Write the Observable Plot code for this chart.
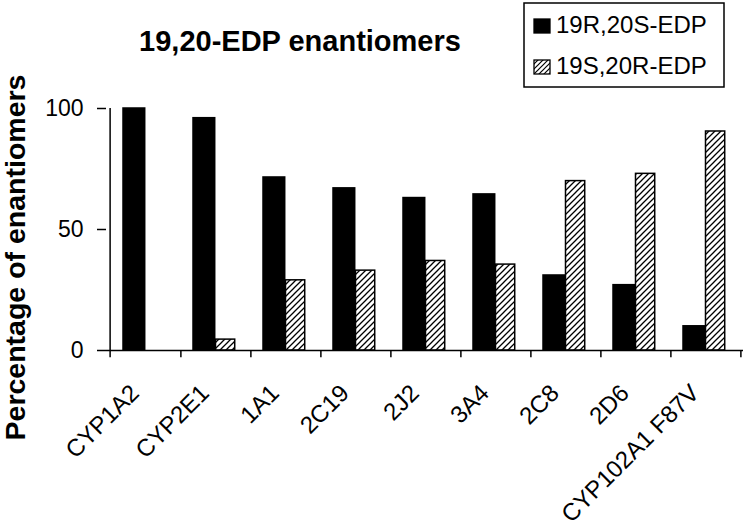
<!DOCTYPE html>
<html><head><meta charset="utf-8">
<script src="https://cdn.jsdelivr.net/npm/d3@7"></script>
<script src="https://cdn.jsdelivr.net/npm/@observablehq/plot@0.6"></script>
<style>
body{margin:0;background:#fff;}
#wrap{position:relative;width:749px;height:531px;overflow:hidden;font-family:"Liberation Sans",Arial,sans-serif;color:#000;background:#fff;}
#chart{position:absolute;left:0;top:0;}
#title{position:absolute;left:0;width:600px;top:27px;text-align:center;font-weight:bold;font-size:29px;line-height:29px;white-space:nowrap;}
#legend{position:absolute;left:522px;top:1px;}
svg g[aria-label^="y-axis"] line, svg g[aria-label^="y-axis"] path{stroke-width:1.5px;}
</style></head>
<body>
<div id="wrap">
  <div id="chart"></div>
  <div id="title">19,20-EDP enantiomers</div>
  <div id="legend"></div>
</div>
<script>
const categories = ["CYP1A2","CYP2E1","1A1","2C19","2J2","3A4","2C8","2D6","CYP102A1 F87V"];
const r20s = [100, 96, 71.5, 67, 63, 64.5, 31, 27, 10];
const s20r = [0, 4.5, 29, 33, 37, 35.5, 70, 73, 90.5];
const seriesNames = ["19R,20S-EDP", "19S,20R-EDP"];
const yTicks = [0, 50, 100];
const yTitle = "Percentage of enantiomers";

const W = 749, H = 531, mL = 106, mR = 6, mT = 108, mB = 181;
const bw = (W - mL - mR) / categories.length;
const rows1 = categories.map((c, i) => ({cat: c, v: r20s[i]}));
const rows2 = categories.map((c, i) => ({cat: c, v: s20r[i]})).filter(d => d.v > 0);
const font = "'Liberation Sans', Arial, sans-serif";

const svg = Plot.plot({
  width: W, height: H,
  marginLeft: mL, marginRight: mR, marginTop: mT, marginBottom: mB,
  style: {fontFamily: font, fontSize: "23px", color: "#000", background: "transparent"},
  x: {type: "band", domain: categories, padding: 0, axis: null},
  y: {domain: [0, 100], ticks: yTicks, tickSize: 9, tickPadding: 14, tickFormat: d => String(d), label: null},
  marks: [
    Plot.barY(rows1, {x: "cat", y: "v", fill: "#000", stroke: "#000", strokeWidth: 1.5, insetLeft: 13, insetRight: bw - 35.5}),
    Plot.barY(rows2, {x: "cat", y: "v", fill: "url(#hatch)", stroke: "#000", strokeWidth: 1.5, insetLeft: 35.5, insetRight: bw - 55.5}),
    Plot.ruleY([0], {strokeWidth: 1.5}),
    Plot.ruleX([categories[0]], {y1: -3, y2: 100, dx: -bw / 2, strokeWidth: 1.5}),
    Plot.ruleX(categories, {y1: 0, y2: -3, dx: bw / 2, strokeWidth: 1.5}),
    Plot.text(categories, {x: d => d, frameAnchor: "bottom", rotate: -45, textAnchor: "end", lineAnchor: "bottom", dx: -5, dy: 44, fontSize: 24, fontFamily: font}),
    Plot.text([yTitle], {text: d => d, frameAnchor: "left", rotate: -90, textAnchor: "middle", lineAnchor: "bottom", dx: 24 - mL, dy: 28, fontSize: 28.5, fontWeight: "bold", fontFamily: font})
  ]
});

const ns = "http://www.w3.org/2000/svg";
const defs = document.createElementNS(ns, "defs");
defs.innerHTML = '<pattern id="hatch" patternUnits="userSpaceOnUse" width="6" height="6"><rect width="6" height="6" fill="#fff"/><path d="M-1,1L1,-1M0,6L6,0M5,7L7,5" stroke="#000" stroke-width="1.3"/></pattern>';
svg.insertBefore(defs, svg.firstChild);
document.getElementById("chart").appendChild(svg);

// legend
const lg = d3.select("#legend").append("svg").attr("width", 206).attr("height", 90)
  .style("font-family", font);
lg.append("defs").html('<pattern id="hatchL" patternUnits="userSpaceOnUse" width="5" height="5"><rect width="5" height="5" fill="#fff"/><path d="M-1,1L1,-1M0,5L5,0M4,6L6,4" stroke="#000" stroke-width="1.2"/></pattern>');
lg.append("rect").attr("x", 2).attr("y", 2).attr("width", 200).attr("height", 84)
  .attr("fill", "#fff").attr("stroke", "#000").attr("stroke-width", 1.5);
const fills = ["#000", "url(#hatchL)"];
seriesNames.forEach((name, i) => {
  const by = [32, 73][i];
  lg.append("rect").attr("x", 12).attr("y", by - 14).attr("width", 16).attr("height", 14)
    .attr("fill", fills[i]).attr("stroke", "#000").attr("stroke-width", 1.3);
  lg.append("text").attr("x", 34).attr("y", by).attr("font-size", 24).attr("fill", "#000").text(name);
});
</script>
</body></html>
